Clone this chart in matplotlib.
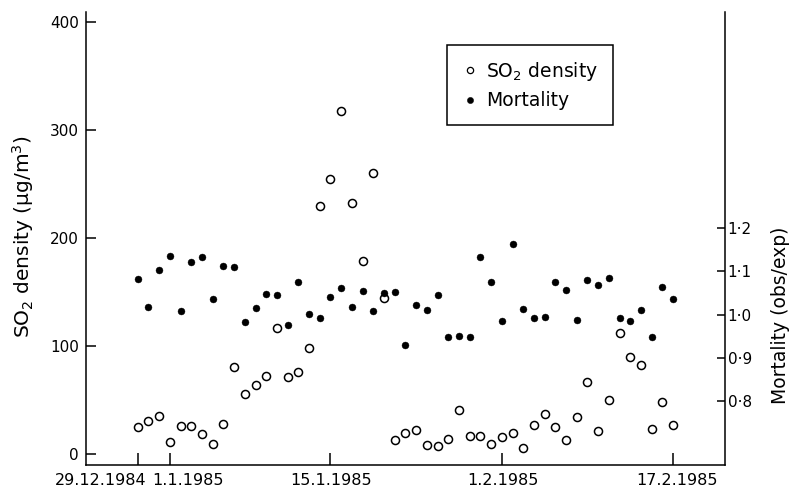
import matplotlib
matplotlib.use("Agg")
import matplotlib.pyplot as plt
from matplotlib.lines import Line2D
from matplotlib.ticker import FuncFormatter
from matplotlib.transforms import ScaledTranslation
import numpy as np

# Daily observations, 29.12.1984 .. 17.2.1985
so2 = [25, 31, 35, 11, 26, 26, 18.5, 9, 28, 81,
       56, 64, 72, 117, 71, 76, 98, 230, 255, 318,
       232, 179, 260, 144, 13, 19, 22, 8, 7.5, 14,
       41, 17, 17, 9, 15.5, 19, 5.5, 27, 37, 25,
       13, 34, 67, 21.5, 50, 112, 90, 82, 23, 48, 26.5]
mortality = [1.083, 1.018, 1.102, 1.136, 1.009, 1.122, 1.133, 1.037, 1.112, 1.109,
             0.982, 1.015, 1.048, 1.045, 0.977, 1.075, 1.002, 0.991, 1.040, 1.061,
             1.018, 1.055, 1.008, 1.050, 1.052, 0.929, 1.022, 1.010, 1.046, 0.947,
             0.951, 0.947, 1.134, 1.076, 0.985, 1.163, 1.013, 0.992, 0.995, 1.075,
             1.058, 0.987, 1.081, 1.068, 1.085, 0.993, 0.984, 1.011, 0.948, 1.064, 1.035]
days = np.arange(len(so2))  # day 0 = 29.12.1984

xtick_pos = [0, 3, 18, 34, 50]
xtick_labels = ["29.12.1984", "1.1.1985", "15.1.1985", "1.2.1985", "17.2.1985"]
xtick_dx = [-37, 18, 1, 1, 4]  # label offsets (px) as in the reference
left_ticks = [0, 100, 200, 300, 400]
right_ticks = [0.8, 0.9, 1.0, 1.1, 1.2]

W, H = 790, 493
fig = plt.figure(figsize=(W / 100, H / 100), dpi=100)
ax = fig.add_axes([86 / W, 1 - 465 / H, (725 - 86) / W, (465 - 12) / H])
ax2 = ax.twinx()

ax.plot(days, so2, linestyle="none", marker="o", ms=5.8, mfc="white",
        mec="black", mew=1.1, zorder=3)
ax2.plot(days, mortality, linestyle="none", marker="o", ms=5.0, mfc="black",
         mec="black", mew=0.3, zorder=3)

ax.set_xlim(-4.83, 54.84)
ax.set_ylim(-10.2, 409.3)
ax2.set_ylim(0.652, 1.700)

ax.set_xticks(xtick_pos)
ax.set_xticklabels(xtick_labels)
ax.set_yticks(left_ticks)
ax2.set_yticks(right_ticks)
ax2.yaxis.set_major_formatter(FuncFormatter(lambda v, p: f"{v:.1f}".replace(".", "\u00b7")))

for sp in ["top", "right"]:
    ax.spines[sp].set_visible(False)
for sp in ["top", "left", "bottom"]:
    ax2.spines[sp].set_visible(False)
for a in (ax, ax2):
    for sp in a.spines.values():
        sp.set_linewidth(1.1)

ax.tick_params(axis="y", direction="in", length=7.5, width=1.1, pad=5, labelsize=11)
ax.tick_params(axis="x", direction="in", length=8.5, width=1.1, pad=6, labelsize=11.5)
ax2.tick_params(axis="y", direction="in", length=6, width=1.1, pad=2, labelsize=11)

fig.text(23 / W, 1 - 237 / H, "SO$_2$ density (μg/m$^3$)", rotation=90,
         ha="center", va="center", fontsize=14.5)
fig.text(780 / W, 1 - 315 / H, "Mortality (obs/exp)", rotation=90,
         ha="center", va="center", fontsize=13.5)

handles = [Line2D([], [], linestyle="none", marker="o", ms=4.5, mfc="white", mec="black", mew=0.9),
           Line2D([], [], linestyle="none", marker="o", ms=4.5, mfc="black", mec="black", mew=0.3)]
leg = ax2.legend(handles, ["SO$_2$ density", "Mortality"], loc="upper left",
                 bbox_to_anchor=(447 / W, 1 - 45 / H), bbox_transform=fig.transFigure,
                 borderaxespad=0, fontsize=13.5, frameon=True, fancybox=False,
                 edgecolor="black", framealpha=1, handlelength=0.8, handletextpad=0.5,
                 borderpad=0.8, labelspacing=0.45)
leg.get_frame().set_linewidth(1.1)

for lbl, dx in zip(ax.get_xticklabels(), xtick_dx):
    lbl.set_transform(lbl.get_transform() + ScaledTranslation(dx / 100, 0, fig.dpi_scale_trans))

fig.savefig("out.png", dpi=100)
